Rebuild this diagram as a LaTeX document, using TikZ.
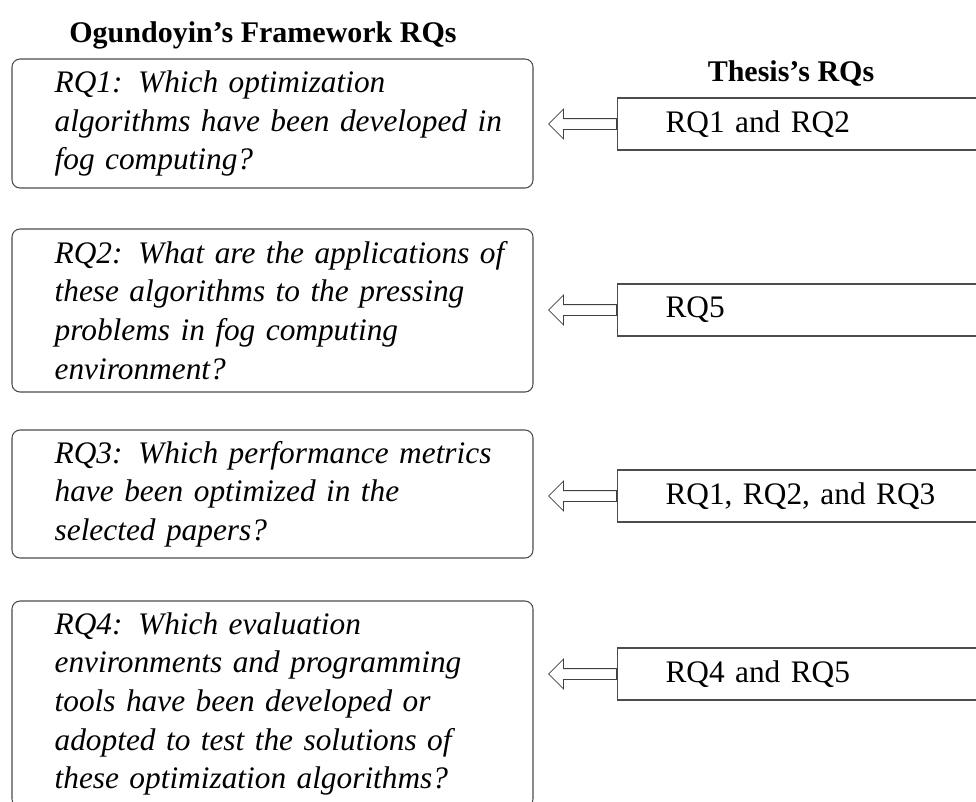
\documentclass[tikz,border=0pt]{standalone}
\usepackage{fontspec}
\setmainfont{Liberation Serif}
\usepackage{tikz}
\usetikzlibrary{positioning,shapes.arrows}

\begin{document}
\begin{tikzpicture}[
    x=0.75pt, y=-0.75pt,
    qbox/.style={draw=black!70, line width=0.8pt, rounded corners=6pt,
        text width=390.75pt, inner xsep=0pt, inner ysep=0pt, align=left,
        font=\fontsize{23.5}{29}\selectfont\itshape,
        execute at begin node={\leftskip=32pt\relax}},
    tbox/.style={draw=black!70, line width=0.8pt, anchor=west,
        text width=330pt, inner xsep=36pt, minimum height=39pt, align=left,
        font=\fontsize{23.5}{29}\selectfont},
    hdr/.style={anchor=base, font=\fontsize{22.5}{29}\selectfont\bfseries},
    fatarrow/.style={single arrow, draw=black!75, line width=0.6pt, fill=white,
        shape border rotate=180, inner xsep=0pt, inner ysep=3.75pt,
        minimum height=51pt, single arrow head extend=7.1pt, anchor=tail},
]
\useasboundingbox (0,0) rectangle (976,801);

% headings
\node[hdr] (fwhead) at (263,42) {Ogundoyin's Framework RQs};
\node[hdr] (thhead) at (791,81) {Thesis's RQs};

% framework questions
\node[qbox, minimum height=96.75pt] (q1) at (272.5,123.5)
    {RQ1: Which optimization\\ algorithms have been developed in\\ fog computing?};
\node[qbox, minimum height=122.25pt] (q2) at (272.5,310.5)
    {RQ2: What are the applications of\\ these algorithms to the pressing\\
     problems in fog computing\\ environment?};
\node[qbox, minimum height=96pt] (q3) at (272.5,494)
    {RQ3: Which performance metrics\\ have been optimized in the\\ selected papers?};
\node[qbox, minimum height=154.5pt] (q4) at (272.5,704)
    {RQ4: Which evaluation\\ environments and programming\\ tools have been developed or\\
     adopted to test the solutions of\\ these optimization algorithms?};

% thesis questions
\node[tbox] (t1) at (617,124) {RQ1 and RQ2};
\node[tbox] (t2) at (617,310) {RQ5};
\node[tbox] (t3) at (617,496) {RQ1, RQ2, and RQ3};
\node[tbox] (t4) at (617,674) {RQ4 and RQ5};

% mapping arrows
\node[fatarrow] (a1) at (t1.west) {};
\node[fatarrow] (a2) at (t2.west) {};
\node[fatarrow] (a3) at (t3.west) {};
\node[fatarrow] (a4) at (t4.west) {};
\end{tikzpicture}
\end{document}
